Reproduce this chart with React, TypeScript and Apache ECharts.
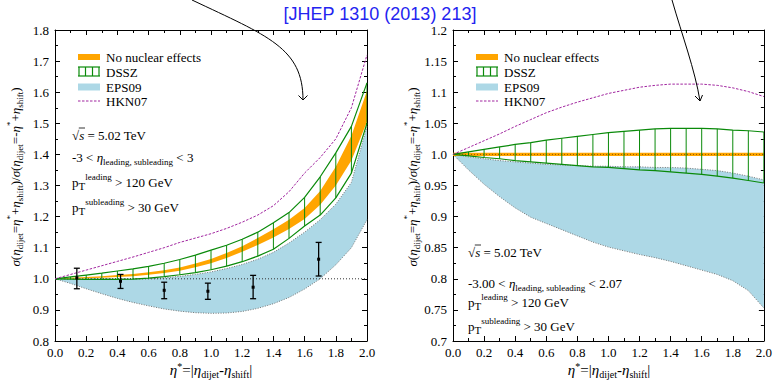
import React, { useEffect, useRef } from "react";
import * as echarts from "echarts";

const F = "Liberation Serif, DejaVu Serif, serif";
const ORANGE = "#ffa500";
const GREEN = "#0a8a0a";
const BLUE = "#add8e6";
const PURPLE = "#a0249f";
const GRAY = "#777777";

// ---------- data ----------
const ETA = [0, 0.1, 0.2, 0.3, 0.4, 0.5, 0.6, 0.7, 0.8, 0.9, 1.0, 1.1, 1.2, 1.3, 1.4, 1.5, 1.6, 1.7, 1.8, 1.9, 2.0];

// left panel (-3 < eta < 3)
const L_NONUC_LO = [1.0, 1.0005, 1.002, 1.0035, 1.006, 1.0085, 1.013, 1.0185, 1.026, 1.037, 1.05, 1.067, 1.087, 1.109, 1.133, 1.16, 1.192, 1.238, 1.3, 1.38, 1.505];
const L_NONUC_HI = [1.0, 1.0035, 1.006, 1.0085, 1.012, 1.0155, 1.021, 1.0275, 1.036, 1.049, 1.064, 1.083, 1.105, 1.131, 1.159, 1.19, 1.228, 1.282, 1.36, 1.46, 1.605];
const L_DSSZ_HI = [1.0, 1.006, 1.012, 1.018, 1.025, 1.032, 1.04, 1.05, 1.062, 1.076, 1.092, 1.108, 1.127, 1.15, 1.18, 1.213, 1.262, 1.328, 1.405, 1.49, 1.63];
const L_DSSZ_LO = [1.0, 0.999, 0.998, 0.998, 0.998, 0.999, 1.002, 1.007, 1.013, 1.02, 1.029, 1.041, 1.055, 1.073, 1.095, 1.13, 1.17, 1.205, 1.26, 1.34, 1.5];
const L_EPS_HI = [1.0, 1.0, 1.0, 1.0, 1.0, 1.0, 1.001, 1.003, 1.008, 1.014, 1.022, 1.033, 1.046, 1.063, 1.085, 1.115, 1.15, 1.19, 1.24, 1.31, 1.49];
const L_EPS_LO = [1.0, 0.985, 0.968, 0.952, 0.937, 0.924, 0.913, 0.903, 0.896, 0.891, 0.889, 0.89, 0.895, 0.905, 0.92, 0.94, 0.967, 1.0, 1.045, 1.1, 1.19];
const L_HKN = [1.0, 1.014, 1.028, 1.042, 1.056, 1.07, 1.085, 1.1, 1.117, 1.131, 1.145, 1.162, 1.182, 1.205, 1.235, 1.28, 1.34, 1.39, 1.45, 1.55, 1.72];

// CMS data points (left panel)
const DATA_X = [0.14, 0.42, 0.7, 0.98, 1.27, 1.69];
const DATA_Y = [1.003, 0.992, 0.963, 0.96, 0.973, 1.063];
const DATA_LO = [0.968, 0.969, 0.936, 0.934, 0.936, 1.009];
const DATA_HI = [1.034, 1.014, 0.989, 0.986, 1.011, 1.117];

// right panel (-3.00 < eta < 2.07)
const R_NONUC_X = [0, 2];
const R_NONUC_LO = [0.9973, 0.9973];
const R_NONUC_HI = [1.0027, 1.0027];
const R_DSSZ_HI = [1.0, 1.004, 1.008, 1.012, 1.016, 1.019, 1.023, 1.026, 1.029, 1.032, 1.035, 1.037, 1.039, 1.041, 1.042, 1.042, 1.042, 1.041, 1.039, 1.038, 1.036];
const R_DSSZ_LO = [1.0, 0.9975, 0.995, 0.993, 0.99, 0.988, 0.986, 0.984, 0.982, 0.98, 0.979, 0.977, 0.975, 0.974, 0.972, 0.97, 0.968, 0.965, 0.962, 0.958, 0.954];
const R_EPS_HI = [1.0, 0.996, 0.993, 0.99, 0.988, 0.986, 0.984, 0.983, 0.982, 0.981, 0.981, 0.98, 0.98, 0.979, 0.979, 0.978, 0.976, 0.974, 0.97, 0.965, 0.959];
const R_EPS_LO = [1.0, 0.975, 0.952, 0.932, 0.914, 0.899, 0.889, 0.879, 0.869, 0.859, 0.851, 0.845, 0.839, 0.834, 0.828, 0.821, 0.814, 0.807, 0.797, 0.781, 0.753];
const R_HKN = [1.0, 1.011, 1.022, 1.033, 1.045, 1.056, 1.067, 1.076, 1.084, 1.091, 1.098, 1.103, 1.108, 1.111, 1.113, 1.113, 1.113, 1.111, 1.107, 1.101, 1.093];

const REF_X = [0, 2];
const REF_Y = [1, 1];

const LEGEND_NAMES = ["No nuclear effects", "DSSZ", "EPS09", "HKN07"];
const TITLE = "[JHEP 1310 (2013) 213]";

// ---------- helpers ----------
const richStyles = (size: number, lh: number) => {
  const small = Math.round(size * 0.68);
  return {
    n: { fontFamily: F, fontSize: size, lineHeight: lh, verticalAlign: "middle", fill: "#000" },
    i: { fontFamily: F, fontSize: size, fontStyle: "italic", lineHeight: lh, verticalAlign: "middle", fill: "#000" },
    sub: { fontFamily: F, fontSize: small, lineHeight: small + 1, verticalAlign: "bottom", fill: "#000" },
    sup: { fontFamily: F, fontSize: small, lineHeight: small + 1, verticalAlign: "top", fill: "#000" },
    T: { fontFamily: F, fontSize: size - 2, lineHeight: size - 1, verticalAlign: "bottom", fill: "#000" },
  };
};

const richText = (x: number, y: number, text: string, size: number, lh: number, align = "left", rotation = 0) => ({
  type: "text",
  x,
  y,
  rotation,
  z: 20,
  silent: true,
  style: {
    text,
    rich: richStyles(size, lh),
    fill: "#000",
    fontFamily: F,
    fontSize: size,
    align,
    textAlign: align,
    verticalAlign: "middle",
    textVerticalAlign: "middle",
  },
});

const bandSeries = (ax: number, xs: number[], lo: number[], hi: number[], fill: string, z: number) => ({
  type: "custom",
  xAxisIndex: ax,
  yAxisIndex: ax,
  z,
  silent: true,
  clip: true,
  data: [[xs[0], lo[0]]],
  encode: { x: 0, y: 1 },
  renderItem: (_p: any, api: any) => {
    const pts: number[][] = [];
    for (let i = 0; i < xs.length; i++) pts.push(api.coord([xs[i], hi[i]]));
    for (let i = xs.length - 1; i >= 0; i--) pts.push(api.coord([xs[i], lo[i]]));
    return { type: "polygon", shape: { points: pts }, style: { fill, stroke: null } };
  },
});

const lineSeries = (ax: number, xs: number[], ys: number[], color: string, width: number, type: any, z: number) => ({
  type: "line",
  xAxisIndex: ax,
  yAxisIndex: ax,
  z,
  silent: true,
  symbol: "none",
  showSymbol: false,
  data: xs.map((x, i) => [x, ys[i]]),
  lineStyle: { color, width, type },
});

const hatchSeries = (ax: number, xs: number[], lo: number[], hi: number[], z: number) => ({
  type: "custom",
  xAxisIndex: ax,
  yAxisIndex: ax,
  z,
  silent: true,
  clip: true,
  data: xs.map((x, i) => [x, lo[i], hi[i]]).slice(1),
  encode: { x: 0, y: [1, 2] },
  renderItem: (_p: any, api: any) => {
    const a = api.coord([api.value(0), api.value(1)]);
    const b = api.coord([api.value(0), api.value(2)]);
    return { type: "line", shape: { x1: a[0], y1: a[1], x2: b[0], y2: b[1] }, style: { stroke: GREEN, lineWidth: 1 } };
  },
});

const errorSeries = () => ({
  type: "custom",
  xAxisIndex: 0,
  yAxisIndex: 0,
  z: 9,
  silent: true,
  data: DATA_X.map((x, i) => [x, DATA_Y[i], DATA_LO[i], DATA_HI[i]]),
  encode: { x: 0, y: [1, 2, 3] },
  renderItem: (_p: any, api: any) => {
    const x = api.value(0);
    const pc = api.coord([x, api.value(1)]);
    const pl = api.coord([x, api.value(2)]);
    const ph = api.coord([x, api.value(3)]);
    const st = { stroke: "#000", lineWidth: 1.3 };
    return {
      type: "group",
      children: [
        { type: "line", shape: { x1: pl[0], y1: pl[1], x2: ph[0], y2: ph[1] }, style: st },
        { type: "line", shape: { x1: pl[0] - 3, y1: pl[1], x2: pl[0] + 3, y2: pl[1] }, style: st },
        { type: "line", shape: { x1: ph[0] - 3, y1: ph[1], x2: ph[0] + 3, y2: ph[1] }, style: st },
        { type: "rect", shape: { x: pc[0] - 1.5, y: pc[1] - 1.5, width: 3, height: 3 }, style: { fill: "#000" } },
      ],
    };
  },
});

const xAxisDef = (grid: number, pos: string, labels: boolean) => ({
  type: "value",
  gridIndex: grid,
  position: pos,
  min: 0,
  max: 2,
  interval: 0.2,
  axisLine: { show: true, onZero: false, lineStyle: { color: "#000", width: 1 } },
  axisTick: { show: true, inside: true, length: 5, lineStyle: { color: "#000" } },
  minorTick: { show: true, splitNumber: 2, length: 3, lineStyle: { color: "#000" } },
  splitLine: { show: false },
  axisLabel: {
    show: labels,
    margin: 5,
    fontFamily: F,
    fontSize: 13,
    color: "#000",
    formatter: (v: number) => v.toFixed(1),
  },
});

const yAxisDef = (grid: number, pos: string, labels: boolean, min: number, max: number, interval: number, fmt: (v: number) => string) => ({
  type: "value",
  gridIndex: grid,
  position: pos,
  min,
  max,
  interval,
  axisLine: { show: true, onZero: false, lineStyle: { color: "#000", width: 1 } },
  axisTick: { show: true, inside: true, length: 5, lineStyle: { color: "#000" } },
  minorTick: { show: true, splitNumber: 2, length: 3, lineStyle: { color: "#000" } },
  splitLine: { show: false },
  axisLabel: { show: labels, margin: 6, fontFamily: F, fontSize: 13, color: "#000", formatter: fmt },
});

const legendEls = (sx: number, tx: number) => {
  const rows = [57, 72, 87, 101];
  const els: any[] = [];
  els.push({ type: "rect", z: 20, shape: { x: sx, y: rows[0] - 3, width: 22, height: 6 }, style: { fill: ORANGE } });
  const gs = { stroke: GREEN, lineWidth: 1.2 };
  els.push({ type: "line", z: 20, shape: { x1: sx, y1: rows[1] - 5, x2: sx + 22, y2: rows[1] - 5 }, style: gs });
  els.push({ type: "line", z: 20, shape: { x1: sx, y1: rows[1] + 4, x2: sx + 22, y2: rows[1] + 4 }, style: gs });
  [1, 7.5, 14.5, 21].forEach((dx) =>
    els.push({ type: "line", z: 20, shape: { x1: sx + dx, y1: rows[1] - 5, x2: sx + dx, y2: rows[1] + 4 }, style: gs })
  );
  els.push({ type: "rect", z: 20, shape: { x: sx, y: rows[2] - 3.5, width: 22, height: 7 }, style: { fill: BLUE } });
  els.push({
    type: "line",
    z: 20,
    shape: { x1: sx, y1: rows[3], x2: sx + 22, y2: rows[3] },
    style: { stroke: PURPLE, lineWidth: 1, lineDash: [2.5, 1.5] },
  });
  LEGEND_NAMES.forEach((name, i) =>
    els.push({
      type: "text",
      z: 20,
      x: tx,
      y: rows[i],
      style: {
        text: name,
        fontFamily: F,
        fontSize: 13,
        fill: "#000",
        align: "left",
        textAlign: "left",
        verticalAlign: "middle",
        textVerticalAlign: "middle",
      },
    })
  );
  return els;
};

const sqrtEls = (x: number, y: number) => [
  richText(x, y, "{n|√}{i|s}{n| = 5.02 TeV}", 13, 19),
  { type: "line", z: 20, shape: { x1: x + 6.8, y1: y - 7, x2: x + 13, y2: y - 7 }, style: { stroke: "#000", lineWidth: 0.8 } },
];

const arrowEls = (p0: number[], c1: number[], c2: number[], p1: number[], wingL: number[], wingR: number[]) => [
  {
    type: "bezierCurve",
    z: 20,
    shape: { x1: p0[0], y1: p0[1], cpx1: c1[0], cpy1: c1[1], cpx2: c2[0], cpy2: c2[1], x2: p1[0], y2: p1[1] },
    style: { stroke: "#000", lineWidth: 1, fill: null },
  },
  {
    type: "polyline",
    z: 20,
    shape: { points: [wingL, p1, wingR] },
    style: { stroke: "#000", lineWidth: 1, fill: null },
  },
];

const XT = "{i|η}{sup|*}{n|=|}{i|η}{sub|dijet}{n|-}{i|η}{sub|shift}{n||}";
const YT =
  "{i|σ}{n|(}{i|η}{sub|dijet}{n|=}{i|η}{sup|*}{n|+}{i|η}{sub|shift}{n|)/}{i|σ}{n|(}{i|η}{sub|dijet}{n|=-}{i|η}{sup|*}{n|+}{i|η}{sub|shift}{n|)}";

export default function App() {
  const ref = useRef<HTMLDivElement>(null);
  useEffect(() => {
    if (!ref.current) return;
    const chart = echarts.init(ref.current, undefined, { renderer: "svg" });
    const fmtL = (v: number) => v.toFixed(1);
    const fmtR = (v: number) => (Math.abs(v - 1) < 1e-9 ? "1.0" : String(+v.toFixed(2)));
    const option: any = {
      animation: false,
      backgroundColor: "#fff",
      textStyle: { fontFamily: F },
      grid: [
        { left: 55, top: 30, width: 312, height: 311 },
        { left: 453, top: 30, width: 312, height: 311 },
      ],
      xAxis: [xAxisDef(0, "bottom", true), xAxisDef(0, "top", false), xAxisDef(1, "bottom", true), xAxisDef(1, "top", false)],
      yAxis: [
        yAxisDef(0, "left", true, 0.8, 1.8, 0.1, fmtL),
        yAxisDef(0, "right", false, 0.8, 1.8, 0.1, fmtL),
        yAxisDef(1, "left", true, 0.7, 1.2, 0.05, fmtR),
        yAxisDef(1, "right", false, 0.7, 1.2, 0.05, fmtR),
      ],
      series: [
        // left
        bandSeries(0, ETA, L_EPS_LO, L_EPS_HI, BLUE, 1),
        lineSeries(0, ETA, L_EPS_LO, GRAY, 1, [1, 1.5], 2),
        lineSeries(0, ETA, L_EPS_HI, GRAY, 1, [1, 1.5], 2),
        lineSeries(0, REF_X, REF_Y, "#333", 1, [1, 2], 3),
        bandSeries(0, ETA, L_NONUC_LO, L_NONUC_HI, ORANGE, 4),
        hatchSeries(0, ETA, L_DSSZ_LO, L_DSSZ_HI, 5),
        lineSeries(0, ETA, L_DSSZ_HI, GREEN, 1.2, "solid", 6),
        lineSeries(0, ETA, L_DSSZ_LO, GREEN, 1.2, "solid", 6),
        lineSeries(0, ETA, L_HKN, PURPLE, 1, [2.5, 1.5], 7),
        errorSeries(),
        // right
        bandSeries(2, ETA, R_EPS_LO, R_EPS_HI, BLUE, 1),
        lineSeries(2, ETA, R_EPS_LO, GRAY, 1, [1, 1.5], 2),
        lineSeries(2, ETA, R_EPS_HI, GRAY, 1, [1, 1.5], 2),
        bandSeries(2, R_NONUC_X, R_NONUC_LO, R_NONUC_HI, ORANGE, 4),
        lineSeries(2, REF_X, REF_Y, "#8a5a00", 1, [1, 2], 4.5),
        hatchSeries(2, ETA, R_DSSZ_LO, R_DSSZ_HI, 5),
        lineSeries(2, ETA, R_DSSZ_HI, GREEN, 1.2, "solid", 6),
        lineSeries(2, ETA, R_DSSZ_LO, GREEN, 1.2, "solid", 6),
        lineSeries(2, ETA, R_HKN, PURPLE, 1, [2.5, 1.5], 7),
      ],
      graphic: [
        {
          type: "text",
          z: 20,
          x: 380,
          y: 14,
          style: {
            text: TITLE,
            fontFamily: "Liberation Sans, Arial, sans-serif",
            fontSize: 18,
            fill: "#2424f0",
            align: "center",
            textAlign: "center",
            verticalAlign: "middle",
            textVerticalAlign: "middle",
          },
        },
        ...arrowEls([192, 0], [268, 36], [303, 48], [303, 100], [298.5, 95.5], [307.5, 95.5]),
        ...arrowEls([672, 0], [682, 35], [695, 70], [700, 101], [695, 96], [702.5, 95]),
        ...legendEls(78, 106),
        ...legendEls(476, 504),
        ...sqrtEls(72, 135),
        richText(72, 157, "{n|-3 < }{i|η}{sub|leading, subleading}{n| < 3}", 13, 19),
        richText(72, 182, "{n|p}{T|T}{sup|leading}{n| > 120 GeV}", 13, 19),
        richText(72, 207, "{n|p}{T|T}{sup|subleading}{n| > 30 GeV}", 13, 19),
        ...sqrtEls(468, 252),
        richText(468, 283, "{n|-3.00 < }{i|η}{sub|leading, subleading}{n| < 2.07}", 13, 19),
        richText(468, 302, "{n|p}{T|T}{sup|leading}{n| > 120 GeV}", 13, 19),
        richText(468, 326, "{n|p}{T|T}{sup|subleading}{n| > 30 GeV}", 13, 19),
        richText(211, 370, XT, 15, 18, "center"),
        richText(609, 370, XT, 15, 18, "center"),
        richText(15, 177, YT, 13, 19, "center", Math.PI / 2),
        richText(412, 177, YT, 13, 19, "center", Math.PI / 2),
      ],
    };
    chart.setOption(option);
    return () => chart.dispose();
  }, []);
  return (
    <div
      ref={ref}
      style={{ position: "fixed", left: 0, top: 0, width: 775, height: 381, background: "#fff" }}
    />
  );
}
